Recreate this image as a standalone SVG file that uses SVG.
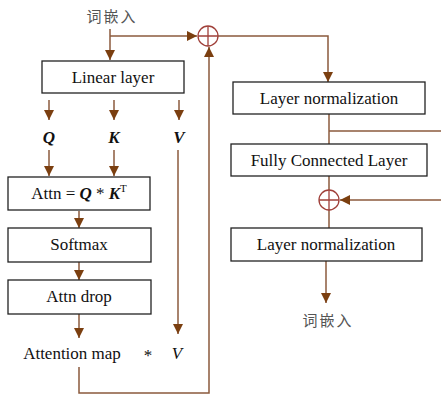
<svg xmlns="http://www.w3.org/2000/svg" width="441" height="396" viewBox="0 0 441 396">
<defs>
<marker id="ah" viewBox="0 0 10 10" refX="10" refY="5" markerWidth="10" markerHeight="10" markerUnits="userSpaceOnUse" orient="auto">
<path d="M0,0 L10,5 L0,10 Z" fill="#7B3F10"/>
</marker>
<style>
.box{fill:#fff;stroke:#222;stroke-width:1.3}
.t{font-family:"Liberation Serif",serif;font-size:17px;fill:#111;text-anchor:middle}
.cn{font-family:"Noto Sans CJK SC",sans-serif;font-size:15px;fill:#555;text-anchor:middle;letter-spacing:2px}
.c{fill:none;stroke:#8B5A3C;stroke-width:1.5}
.a{fill:none;stroke:#8B5A3C;stroke-width:1.5;marker-end:url(#ah)}
.sum{fill:#fff;stroke:#A0403A;stroke-width:1.3}
.q{font-family:"Liberation Serif",serif;font-size:17px;fill:#111;text-anchor:middle;font-style:italic;font-weight:bold}
</style>
</defs>
<g id="connectors">
<path class="a" d="M110,29 V60"/>
<path class="a" d="M110,36 H197"/>
<path class="a" d="M49,100 V120"/>
<path class="a" d="M114,100 V120"/>
<path class="a" d="M179,100 V120"/>
<path class="a" d="M49,150 V176"/>
<path class="a" d="M114,150 V176"/>
<path class="a" d="M79,211 V228"/>
<path class="a" d="M79,262 V280"/>
<path class="a" d="M79,314 V338"/>
<path class="a" d="M178,150 V334"/>
<path class="a" d="M79,367 V393 H209 V47"/>
<path class="a" d="M218,36 H328 V82"/>
<path class="c" d="M329,114 V144"/>
<path class="c" d="M329,131 H441"/>
<path class="c" d="M329,176 V190"/>
<path class="a" d="M441,200 H340"/>
<path class="c" d="M329,210 V228"/>
<path class="a" d="M326,261 V303"/>
</g>
<g id="in-label"><text class="cn" x="112" y="22">词嵌入</text></g>
<g id="sum1"><circle class="sum" cx="208" cy="36" r="10"/><path class="sum" d="M198,36 H218 M208,26 V46"/></g>
<g id="sum2"><circle class="sum" cx="329" cy="200" r="10"/><path class="sum" d="M319,200 H339 M329,190 V210"/></g>
<g id="linear"><rect class="box" x="42" y="61" width="142" height="32"/><text class="t" x="113" y="83">Linear layer</text></g>
<g id="q"><text class="q" x="49" y="143">Q</text></g>
<g id="k"><text class="q" x="114" y="143">K</text></g>
<g id="v"><text class="q" x="179" y="143">V</text></g>
<g id="attn"><rect class="box" x="8" y="177" width="142" height="33"/><text class="t" x="79" y="199">Attn = <tspan font-style="italic" font-weight="bold">Q</tspan> * <tspan font-style="italic" font-weight="bold">K</tspan><tspan font-size="11" dy="-7">T</tspan></text></g>
<g id="softmax"><rect class="box" x="8" y="228" width="143" height="34"/><text class="t" x="79" y="250">Softmax</text></g>
<g id="drop"><rect class="box" x="8" y="280" width="143" height="34"/><text class="t" x="79" y="302">Attn drop</text></g>
<g id="attnmap"><text class="t" x="72" y="359">Attention map</text><text class="t" x="148" y="361">*</text><text class="t" x="177" y="359" font-style="italic">V</text></g>
<g id="ln1"><rect class="box" x="233" y="82" width="192" height="32"/><text class="t" x="329" y="104">Layer normalization</text></g>
<g id="fc"><rect class="box" x="231" y="144" width="196" height="32"/><text class="t" x="329" y="166">Fully Connected Layer</text></g>
<g id="ln2"><rect class="box" x="231" y="228" width="191" height="33"/><text class="t" x="326" y="250">Layer normalization</text></g>
<g id="out-label"><text class="cn" x="328" y="326">词嵌入</text></g>
</svg>
